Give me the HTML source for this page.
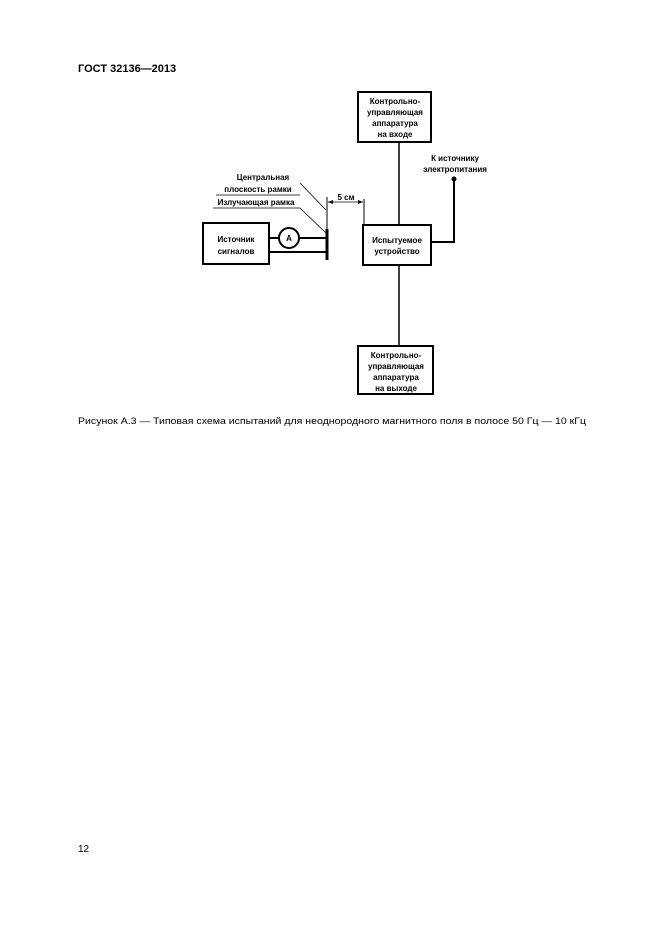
<!DOCTYPE html>
<html><head><meta charset="utf-8"><style>
body{margin:0;background:#fff;}
svg{display:block}
text{font-family:"Liberation Sans",sans-serif;fill:#000}
</style></head><body>
<svg width="661" height="935" xmlns="http://www.w3.org/2000/svg">
<text x="78" y="72" font-size="11" font-weight="bold">ГОСТ 32136—2013</text>
<g stroke="#000" fill="none">
<rect x="358" y="92" width="73" height="50" stroke-width="2"/>
<rect x="363" y="225" width="68" height="40" stroke-width="2"/>
<rect x="358" y="346" width="75" height="48" stroke-width="2"/>
<rect x="203" y="223" width="66" height="41" stroke-width="2"/>
<line x1="399" y1="142" x2="399" y2="225" stroke-width="1.5"/>
<line x1="399" y1="265" x2="399" y2="346" stroke-width="1.5"/>
<polyline points="454,179 454,242 431,242" stroke-width="2"/>
<circle cx="289" cy="238" r="10" stroke-width="2"/>
<line x1="269" y1="238" x2="279" y2="238" stroke-width="2"/>
<line x1="299" y1="238" x2="327" y2="238" stroke-width="2"/>
<line x1="269" y1="252" x2="327" y2="252" stroke-width="2"/>
<line x1="327" y1="229" x2="327" y2="260" stroke-width="3"/>
<line x1="327" y1="197" x2="327" y2="229" stroke-width="1"/>
<line x1="364" y1="199" x2="364" y2="226" stroke-width="1"/>
<line x1="328" y1="202" x2="363" y2="202" stroke-width="0.8"/>
<line x1="216" y1="195" x2="300" y2="195" stroke-width="0.8"/>
<line x1="300" y1="183" x2="326" y2="210" stroke-width="0.8"/>
<line x1="213" y1="208" x2="300" y2="208" stroke-width="0.8"/>
<line x1="300" y1="208" x2="326" y2="233" stroke-width="0.8"/>
</g>
<circle cx="454" cy="179" r="2.5" fill="#000"/>
<path d="M328 202 l5 -2 v4z M363 202 l-5 -2 v4z" fill="#000"/>
<g font-size="8" font-weight="bold" text-anchor="middle">
<text x="395" y="104">Контрольно-</text>
<text x="395" y="115">управляющая</text>
<text x="395" y="126">аппаратура</text>
<text x="395" y="137">на входе</text>
<text x="397" y="243">Испытуемое</text>
<text x="397" y="254">устройство</text>
<text x="396" y="358">Контрольно-</text>
<text x="396" y="369">управляющая</text>
<text x="396" y="380">аппаратура</text>
<text x="396" y="391">на выходе</text>
<text x="236" y="242">Источник</text>
<text x="236" y="254">сигналов</text>
<text x="289" y="241">A</text>
<text x="455" y="161">К источнику</text>
<text x="455" y="172">электропитания</text>
<text x="263" y="180">Центральная</text>
<text x="258" y="192">плоскость рамки</text>
<text x="256" y="205">Излучающая рамка</text>
<text x="346" y="200">5 см</text>
</g>
<text x="78" y="424" font-size="9.5" textLength="508" lengthAdjust="spacingAndGlyphs">Рисунок А.3 — Типовая схема испытаний для неоднородного магнитного поля в полосе 50 Гц — 10 кГц</text>
<text x="78" y="852" font-size="10">12</text>
</svg>
</body></html>
